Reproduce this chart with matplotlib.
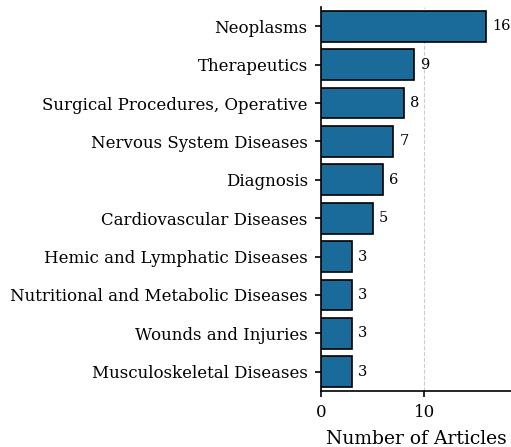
import matplotlib
matplotlib.use('Agg')
import matplotlib.pyplot as plt

categorias = ['Neoplasms', 'Therapeutics', 'Surgical Procedures, Operative',
              'Nervous System Diseases', 'Diagnosis', 'Cardiovascular Diseases',
              'Hemic and Lymphatic Diseases', 'Nutritional and Metabolic Diseases',
              'Wounds and Injuries', 'Musculoskeletal Diseases']
artigos = [16, 9, 8, 7, 6, 5, 3, 3, 3, 3]

plt.rcParams['font.family'] = 'DejaVu Serif'

fig = plt.figure(figsize=(5.11, 4.47), dpi=100)
ax = fig.add_axes([0.628, 0.1253, 0.372, 0.859])

# inverte a ordem para o maior ficar em cima
y = list(range(len(categorias)))[::-1]
ax.barh(y, artigos, height=0.8, color='#1a6a9a', edgecolor='black', linewidth=1.2, zorder=3)
for yi, v in zip(y, artigos):
    ax.text(v + 0.6, yi, str(v), va='center', ha='left', fontsize=10.5)

ax.set_yticks(y)
ax.set_yticklabels(categorias, fontsize=12)
ax.set_ylim(-0.5, len(categorias) - 0.5)
ax.set_xlim(0, 18.4)
ax.set_xticks([0, 10])
ax.tick_params(axis='x', labelsize=12)
ax.tick_params(length=4.5, width=1.2, pad=5)
ax.set_xlabel('Number of Articles', fontsize=13.5, labelpad=6)
ax.grid(axis='x', linestyle='--', color='#cccccc', linewidth=0.8, zorder=0)
ax.spines['top'].set_visible(False)
ax.spines['right'].set_visible(False)
ax.spines['left'].set_linewidth(1.2)
ax.spines['bottom'].set_linewidth(1.2)

fig.savefig('out.png', dpi=100)
